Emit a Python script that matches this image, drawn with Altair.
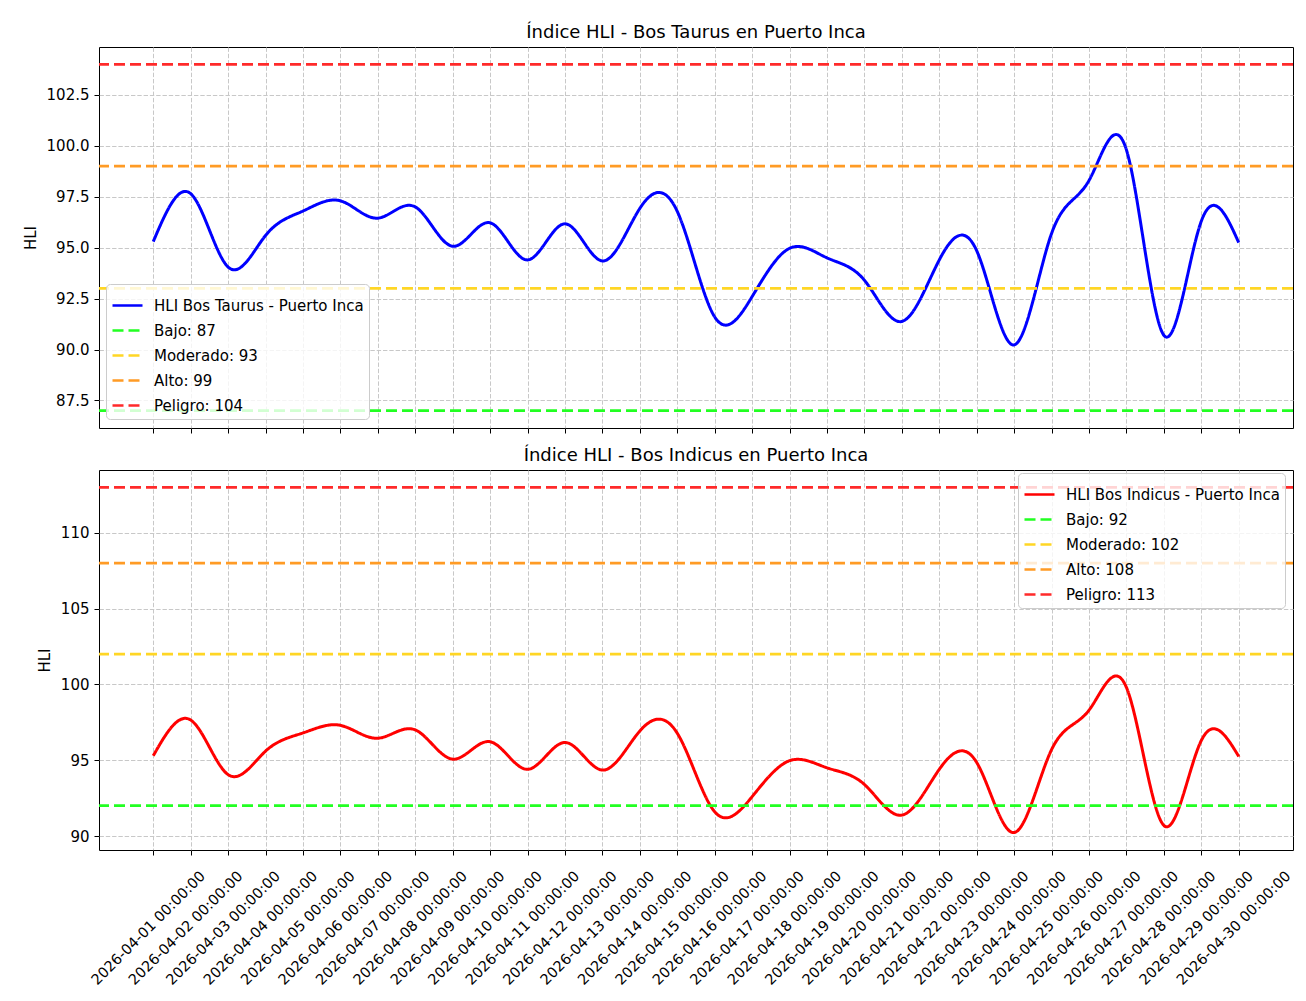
import altair as alt
import pandas as pd

# ---------------- data ----------------
fechas = [f"2026-04-{d:02d}" for d in range(1, 31)]

hli_taurus = [95.3, 97.65, 94.05, 95.6, 96.8, 97.3, 96.45, 97.0, 95.07, 96.22,
              94.4, 96.17, 94.35, 96.93, 96.78, 91.6, 92.6, 94.97, 94.5, 93.4,
              91.38, 94.4, 94.85, 90.23, 95.7, 98.3, 99.8, 90.7, 96.3, 95.25]

hli_indicus = [95.3, 97.65, 94.05, 95.6, 96.8, 97.3, 96.45, 97.0, 95.07, 96.22,
               94.4, 96.17, 94.35, 96.93, 96.78, 91.6, 92.6, 94.97, 94.5, 93.4,
               91.38, 94.4, 94.85, 90.23, 95.7, 98.3, 99.8, 90.7, 96.3, 95.25]

niveles = ["Bajo", "Moderado", "Alto", "Peligro"]
umbral_taurus = [87, 93, 99, 104]
umbral_indicus = [92, 102, 108, 113]
colores_umbral = ["#22ff22", "#ffd625", "#ff9b25", "#ff2a2a"]

ticks_taurus = [87.5, 90.0, 92.5, 95.0, 97.5, 100.0, 102.5]
ticks_indicus = [90, 95, 100, 105, 110]

FONT = "DejaVu Sans"
DAY = 86400000


def ms(s):
    return int(pd.Timestamp(s, tz="UTC").timestamp() * 1000)


tick_ms = [ms(f) for f in fechas]
x_domain = [tick_ms[0] - 1.45 * DAY, tick_ms[-1] + 1.45 * DAY]


def panel(valores, umbrales, nombre, color_linea, titulo, ydom, yvals, yfmt,
          legend_pos, show_labels):
    serie = f"HLI {nombre} - Puerto Inca"
    df_line = pd.DataFrame({
        "fecha": [f + "T00:00:00Z" for f in fechas],
        "hli": valores,
        "serie": serie,
    })
    etiquetas = [f"{n}: {u}" for n, u in zip(niveles, umbrales)]
    df_rule = pd.DataFrame({"hli": umbrales, "serie": etiquetas})

    dominio = [serie] + etiquetas
    leg = alt.Legend(
        title=None, symbolType="stroke",
        symbolSize=900, symbolStrokeWidth=2.7, labelFontSize=15, labelFont=FONT,
        labelColor="#000000", fillColor="rgba(255,255,255,0.8)",
        strokeColor="#cccccc", cornerRadius=4, padding=5, rowPadding=0,
        labelOffset=10, labelLimit=400, orient="none", **legend_pos,
    )
    color = alt.Color("serie:N", sort=dominio,
                      scale=alt.Scale(domain=dominio, range=[color_linea] + colores_umbral),
                      legend=leg)
    dash = alt.StrokeDash("serie:N", sort=dominio,
                          scale=alt.Scale(domain=dominio, range=[[1, 0]] + [[11, 5]] * 4),
                          legend=leg)

    x_axis = alt.Axis(
        values=tick_ms, format="%Y-%m-%d %H:%M:%S", labelAngle=-45,
        labelAlign="center", labelBaseline="middle", labelPadding=73,
        labelOffset=-5,
        labels=show_labels, title=None, tickSize=5, labelFontSize=14.5,
        labelFont=FONT, labelColor="#000000", labelOverlap=False,
        labelBound=False, labelFlush=False,
    )
    y_axis = alt.Axis(
        values=yvals, format=yfmt, title="HLI", titleFontSize=15,
        titleFont=FONT, titleFontWeight="normal", titleColor="#000000",
        titlePadding=8, labelFontSize=15, labelFont=FONT, labelColor="#000000",
        tickSize=5, labelPadding=5,
    )
    x = alt.X("fecha:T", axis=x_axis,
              scale=alt.Scale(type="utc", domain=x_domain, nice=False))
    y = alt.Y("hli:Q", axis=y_axis, scale=alt.Scale(domain=ydom, nice=False, zero=False))

    linea = alt.Chart(df_line).mark_line(
        interpolate="natural", strokeWidth=3, clip=True
    ).encode(x=x, y=y, color=color, strokeDash=dash)

    reglas = alt.Chart(df_rule).mark_rule(strokeWidth=2.7).encode(
        y=alt.Y("hli:Q", scale=alt.Scale(domain=ydom, nice=False, zero=False)),
        color=color, strokeDash=dash,
    )

    return alt.layer(linea, reglas).properties(
        width=1194, height=381,
        title=alt.Title(titulo, fontSize=18, fontWeight="normal", font=FONT,
                        color="#000000", offset=5),
    )


top = panel(hli_taurus, umbral_taurus, "Bos Taurus", "#0000ff",
            "Índice HLI - Bos Taurus en Puerto Inca", [86.15, 104.85],
            ticks_taurus, ".1f", {"legendX": 7, "legendY": 237},
            False)
bottom = panel(hli_indicus, umbral_indicus, "Bos Indicus", "#ff0000",
               "Índice HLI - Bos Indicus en Puerto Inca", [89.08, 114.14],
               ticks_indicus, "d", {"legendX": 919, "legendY": 3},
               True).properties(height=380)

chart = alt.vconcat(top, bottom, spacing=42, bounds="flush").resolve_scale(
    color="independent", strokeDash="independent", y="independent"
).properties(
    padding={"left": 14, "top": 15, "right": 0, "bottom": 0}
).configure_view(
    stroke="#000000", strokeWidth=1
).configure_axis(
    domain=False, tickColor="#000000", gridColor="#c8c8c8", gridDash=[4.4, 1.9],
    gridWidth=1, grid=True
)

chart.save("out.html", embed_options={"renderer": "svg", "actions": False})
